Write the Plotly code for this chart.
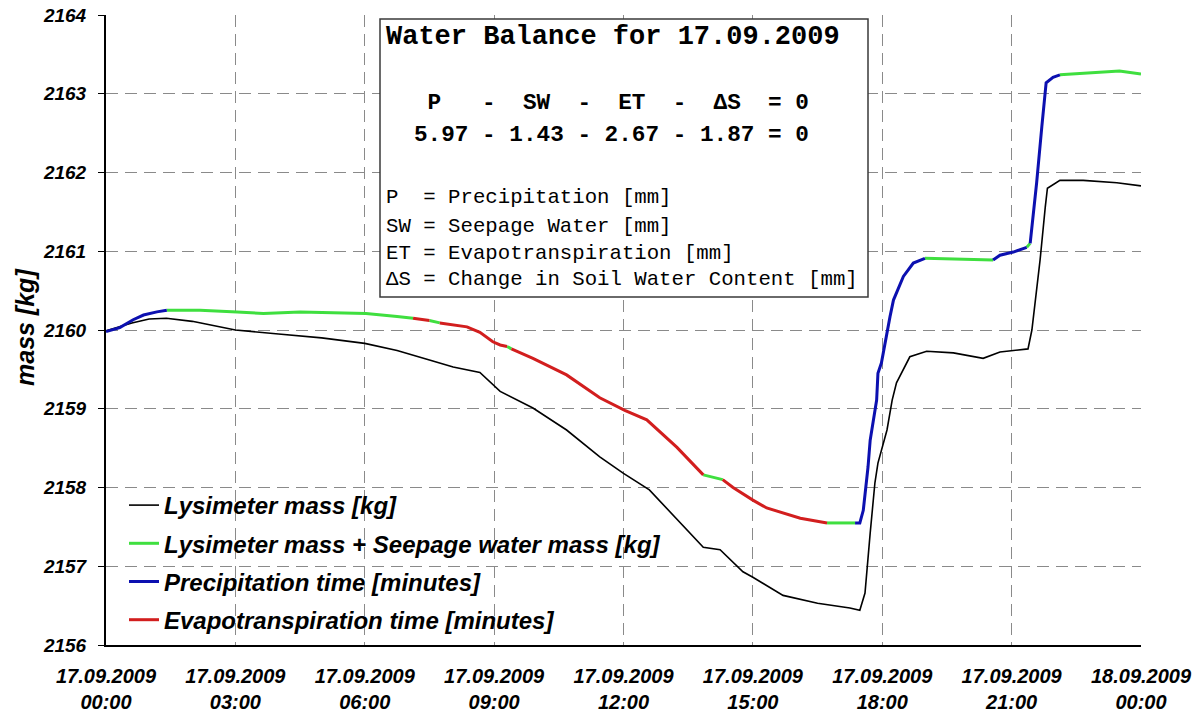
import pandas as pd
import plotly.graph_objects as go

# hours after 17.09.2009 00:00
hours_black = [0, 0.3, 0.6, 1.0, 1.4, 2.0, 3.0, 4.0, 5.0, 6.0, 6.75, 7.5, 8.05, 8.67,
               9.14, 9.9, 10.68, 11.45, 12.0, 12.6, 13.4, 13.85, 14.24, 14.77, 15.0,
               15.7, 16.5, 17.25, 17.48, 17.6, 17.72, 17.83, 17.9, 18.11, 18.23, 18.33,
               18.64, 19.03, 19.65, 20.34, 20.73, 21.38, 21.47, 21.66, 21.78, 21.83,
               22.12, 22.66, 23.44, 24.0]
mass_black = [2159.99, 2160.04, 2160.09, 2160.14, 2160.15, 2160.11, 2160.0, 2159.95,
              2159.9, 2159.83, 2159.74, 2159.62, 2159.53, 2159.46, 2159.22, 2159.01,
              2158.73, 2158.39, 2158.18, 2157.97, 2157.50, 2157.24, 2157.21, 2156.93,
              2156.86, 2156.63, 2156.53, 2156.47, 2156.44, 2156.66, 2157.42, 2158.06,
              2158.31, 2158.73, 2159.11, 2159.33, 2159.66, 2159.73, 2159.71, 2159.64,
              2159.72, 2159.76, 2160.0, 2160.89, 2161.56, 2161.80, 2161.90, 2161.90,
              2161.87, 2161.83]

hours_sw = [0, 0.32, 0.63, 0.87, 1.18, 1.41, 2.18, 3.04, 3.65, 4.5, 6.03, 6.75, 7.12,
            7.5, 7.74, 8.37, 8.67, 8.97, 9.14, 9.3, 9.4, 9.9, 10.68, 11.45, 12.03,
            12.54, 13.24, 13.85, 14.3, 14.54, 15.0, 15.32, 16.1, 16.72, 17.37, 17.48,
            17.56, 17.67, 17.72, 17.87, 17.9, 17.98, 18.18, 18.26, 18.49, 18.72, 18.99,
            20.57, 20.73, 21.04, 21.35, 21.43, 21.58, 21.7, 21.8, 21.96, 22.12, 23.05,
            23.5, 24.0]
mass_sw = [2159.98, 2160.03, 2160.13, 2160.19, 2160.23, 2160.25, 2160.25, 2160.23,
           2160.21, 2160.23, 2160.21, 2160.17, 2160.15, 2160.12, 2160.09, 2160.04,
           2159.97, 2159.85, 2159.81, 2159.79, 2159.76, 2159.64, 2159.43, 2159.14,
           2158.98, 2158.86, 2158.51, 2158.16, 2158.10, 2158.0, 2157.84, 2157.74,
           2157.61, 2157.55, 2157.55, 2157.55, 2157.71, 2158.26, 2158.60, 2159.11,
           2159.45, 2159.58, 2160.17, 2160.38, 2160.68, 2160.85, 2160.91, 2160.89,
           2160.95, 2160.99, 2161.05, 2161.10, 2161.87, 2162.58, 2163.14, 2163.21,
           2163.24, 2163.28, 2163.29, 2163.25]

# which process is active from each start hour on
phase_start = [0, 1.41, 7.12, 7.5, 7.74, 9.3, 9.4, 13.85, 14.3, 16.72, 17.37, 18.99,
               20.57, 21.35, 21.43, 22.12]
phase_kind = ["P", "SW", "ET", "SW", "ET", "SW", "ET", "SW", "ET", "SW", "P", "SW",
              "P", "SW", "P", "SW"]

series_names = {
    "black": "Lysimeter mass [kg]",
    "SW": "Lysimeter mass + Seepage water mass [kg]",
    "P": "Precipitation time [minutes]",
    "ET": "Evapotranspiration time [minutes]",
}
series_colors = {"black": "#000000", "SW": "#3fdf3f", "P": "#0c10b0", "ET": "#d21e1e"}

base = pd.Timestamp("2009-09-17 00:00")


def to_time(h):
    return base + pd.to_timedelta(h, unit="h")


def kind_at(h):
    k = phase_kind[0]
    for s, name in zip(phase_start, phase_kind):
        if h >= s - 1e-9:
            k = name
    return k


def segments(kind):
    xs, ys = [], []
    prev_in = False
    for i in range(len(hours_sw) - 1):
        if kind_at(hours_sw[i]) == kind:
            if not prev_in:
                if xs:
                    xs.append(None)
                    ys.append(None)
                xs.append(to_time(hours_sw[i]))
                ys.append(mass_sw[i])
            xs.append(to_time(hours_sw[i + 1]))
            ys.append(mass_sw[i + 1])
            prev_in = True
        else:
            prev_in = False
    return xs, ys


fig = go.Figure()
fig.add_trace(go.Scatter(
    x=[to_time(h) for h in hours_black], y=mass_black, mode="lines",
    name=series_names["black"], legendgroup="black",
    line=dict(color=series_colors["black"], width=1.6)
))
for kind in ["SW", "P", "ET"]:
    xs, ys = segments(kind)
    fig.add_trace(go.Scatter(
        x=xs, y=ys, mode="lines", name=series_names[kind], legendgroup=kind,
        line=dict(color=series_colors[kind], width=3), connectgaps=False
    ))

grid = dict(showgrid=True, gridcolor="#8a8a8a", gridwidth=1, griddash="12px,7px")

# plot area in pixels
PW, PH, L, T = 1035.0, 630.0, 106.0, 15.0


def px(xp):
    return (xp - L) / PW


def py(yp):
    return (T + PH - yp) / PH


fig.update_layout(
    width=1199, height=715,
    paper_bgcolor="white", plot_bgcolor="white",
    margin=dict(l=106, r=58, t=15, b=70),
    showlegend=True,
    legend=dict(
        x=px(124), y=py(483), xanchor="left", yanchor="top",
        bgcolor="rgba(0,0,0,0)", borderwidth=0, tracegroupgap=4,
        traceorder="grouped",
        font=dict(family="Liberation Sans", size=24, color="black", weight="bold", style="italic"),
    ),
    xaxis=dict(
        type="date", range=[base, to_time(24)], tick0=base, dtick=3 * 3600 * 1000,
        tickformat="%d.%m.%Y<br>%H:%M", automargin=False,
        tickfont=dict(family="Liberation Sans", size=20, color="black", weight="bold", style="italic"),
        ticks="", showline=True, linecolor="black", linewidth=2, zeroline=False,
        ticklabelstandoff=12, **grid
    ),
    yaxis=dict(
        range=[2156, 2164], dtick=1, tickformat="d", automargin=False,
        tickfont=dict(family="Liberation Sans", size=19, color="black", weight="bold", style="italic"),
        ticks="outside", ticklen=6, tickcolor="black", tickwidth=1,
        showline=True, linecolor="black", linewidth=2, zeroline=False,
        ticklabelstandoff=8, **grid
    ),
)

# white patch behind the legend, hiding grid lines but not the curves
fig.add_shape(
    type="rect", xref="paper", yref="paper",
    x0=px(117), x1=px(676), y0=0, y1=py(489),
    fillcolor="white", line=dict(width=0), layer="between"
)

# y axis title
fig.add_annotation(
    text="mass [kg]", x=px(25), y=py(327), xref="paper", yref="paper",
    xanchor="center", yanchor="middle", textangle=-90, showarrow=False,
    font=dict(family="Liberation Sans", size=25, color="black", weight="bold", style="italic")
)

# water balance text box
fig.add_shape(
    type="rect", xref="paper", yref="paper",
    x0=px(380), x1=px(868), y0=py(297), y1=py(19),
    fillcolor="white", line=dict(color="#3a3a3a", width=1.5), layer="above"
)

nb = "\u00a0"
box_lines = [
    ("Water Balance for 17.09.2009", 384, 37, 27, "bold"),
    (" P   -  SW  -  ET  -  ΔS  = 0", 412, 103, 22.7, "bold"),
    ("5.97 - 1.43 - 2.67 - 1.87 = 0", 412, 135, 22.7, "bold"),
    ("P  = Precipitation [mm]", 384, 198, 20.7, "normal"),
    ("SW = Seepage Water [mm]", 384, 226, 20.7, "normal"),
    ("ET = Evapotranspiration [mm]", 384, 253, 20.7, "normal"),
    ("ΔS = Change in Soil Water Content [mm]", 384, 280, 20.7, "normal"),
]
for txt, xp, yp, size, weight in box_lines:
    fig.add_annotation(
        text=txt.replace(" ", nb), x=px(xp), y=py(yp), xref="paper", yref="paper",
        xanchor="left", yanchor="middle", showarrow=False,
        font=dict(family="Liberation Mono", size=size, color="black", weight=weight)
    )

# the page body has a default 8px margin; drop it so the figure fills the window
fig.write_html("out.html", config={"displayModeBar": False},
               post_script="document.body.style.margin = '0';")
